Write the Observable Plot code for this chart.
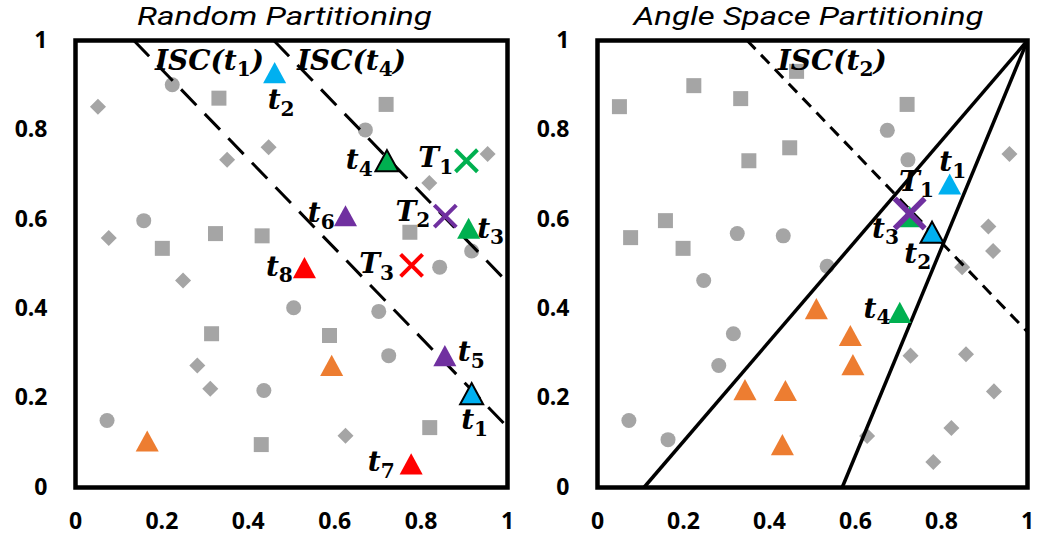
<!DOCTYPE html>
<html><head><meta charset="utf-8">
<script src="https://cdn.jsdelivr.net/npm/d3@7"></script>
<script src="https://cdn.jsdelivr.net/npm/@observablehq/plot@0.6"></script>
<style>
body{margin:0;background:#fff;}
#wrap{position:relative;width:1039px;height:540px;overflow:hidden;}
#wrap svg{position:absolute;top:0;}
</style></head><body><div id="wrap"></div>
<script>
// ---------- DATA ----------
const tickValues = [0, 0.2, 0.4, 0.6, 0.8, 1];
const tickLabels = ["0", "0.2", "0.4", "0.6", "0.8", "1"];
const panelTitles = ["Random Partitioning", "Angle Space Partitioning"];

// groups: g0 = t1/t2, g1 = T1 group, g2 = T2 group, g3 = T3 group, other = remaining tuples
const groupKeys = ["g0", "g1", "g2", "g3", "other"];

// Random Partitioning panel
const randomCircles = [[0.224,0.901],[0.671,0.800],[0.158,0.597],[0.917,0.529],[0.843,0.493],[0.505,0.402],[0.702,0.394],[0.725,0.295],[0.436,0.217],[0.073,0.150]];
const randomSquares = [[0.332,0.871],[0.719,0.857],[0.201,0.535],[0.324,0.568],[0.432,0.563],[0.774,0.571],[0.315,0.344],[0.588,0.340],[0.430,0.096],[0.820,0.134]];
const randomDiamonds = [[0.052,0.852],[0.351,0.733],[0.447,0.761],[0.819,0.681],[0.954,0.746],[0.077,0.558],[0.249,0.463],[0.282,0.273],[0.312,0.221],[0.625,0.116]];
const randomTriangles = [[0.917,0.210,"g0","t1"],[0.461,0.928,"g0","t2"],[0.910,0.580,"g1","t3"],[0.721,0.731,"g1","t4"],[0.855,0.295,"g2","t5"],[0.625,0.608,"g2","t6"],[0.777,0.053,"g3","t7"],[0.530,0.492,"g3","t8"],[0.166,0.104,"other",""],[0.593,0.273,"other",""]];
const randomTargets = [[0.905,0.731,"g1","T1"],[0.856,0.607,"g2","T2"],[0.778,0.497,"g3","T3"]];
const randomOutlined = ["t1", "t4"];
const randomIscLines = [[0.135,1,1,0.135],[0.459,1,1,0.459]];
const randomLabels = [["ISC(t_1)",0.310,0.955],["ISC(t_4)",0.639,0.955],["t_2",0.476,0.866],["t_4",0.657,0.732],["T_1",0.834,0.736],["t_6",0.569,0.613],["T_2",0.781,0.617],["t_3",0.961,0.579],["t_8",0.472,0.494],["T_3",0.697,0.499],["t_5",0.916,0.302],["t_1",0.924,0.150],["t_7",0.708,0.056]];

// Angle Space Partitioning panel
const angleCircles = [[0.674,0.799],[0.722,0.733],[0.325,0.568],[0.432,0.563],[0.534,0.495],[0.247,0.463],[0.316,0.344],[0.282,0.273],[0.073,0.150],[0.164,0.107]];
const angleSquares = [[0.051,0.852],[0.224,0.899],[0.333,0.870],[0.463,0.931],[0.720,0.857],[0.352,0.731],[0.447,0.760],[0.158,0.597],[0.077,0.559],[0.199,0.535]];
const angleDiamonds = [[0.958,0.746],[0.909,0.584],[0.920,0.529],[0.848,0.493],[0.728,0.295],[0.857,0.298],[0.922,0.215],[0.823,0.133],[0.781,0.057],[0.627,0.115]];
const angleTriangles = [[0.819,0.679,"g0","t1"],[0.778,0.571,"g0","t2"],[0.726,0.606,"g1","t3"],[0.703,0.392,"g1","t4"],[0.509,0.400,"other",""],[0.588,0.340,"other",""],[0.594,0.275,"other",""],[0.343,0.219,"other",""],[0.437,0.217,"other",""],[0.430,0.096,"other",""]];
const angleTargets = [[0.726,0.613,"g2","T1"]];
const angleOutlined = ["t2"];
const angleIscLines = [[0.348,1,1,0.348]];
const angleBoundaries = [[1,1,0.108,0],[1,1,0.569,0]];
const angleLabels = [["ISC(t_2)",0.546,0.955],["t_1",0.826,0.727],["T_1",0.742,0.684],["t_3",0.670,0.579],["t_2",0.745,0.523],["t_4",0.650,0.400]];

// ---------- STYLE ----------
const groupColors = ["#00B0F0", "#00B050", "#7030A0", "#FF0000", "#ED7D31"];
const GRAY = "#A5A5A5";
const titleWidths = [295, 350];
const diamondSym = {draw(c, size){ const s = Math.sqrt(size/2); c.moveTo(0,-s); c.lineTo(s,0); c.lineTo(0,s); c.lineTo(-s,0); c.closePath(); }};
const squareSym = {draw(c, size){ const s = Math.sqrt(size)/2; c.rect(-s,-s,2*s,2*s); }};
const triSym = {draw(c, size){ const h = Math.sqrt(size)/2; c.moveTo(0,-0.92*h); c.lineTo(h,0.92*h); c.lineTo(-h,0.92*h); c.closePath(); }};
const crossSym = {draw(c, size){ const s = Math.sqrt(size)/2; c.moveTo(-s,-s); c.lineTo(s,s); c.moveTo(s,-s); c.lineTo(-s,s); }};
const fmt = d => tickLabels[tickValues.indexOf(d)];
const X = d => d[0], Y = d => d[1];

function subscriptify(svg){
  const ns = "http://www.w3.org/2000/svg";
  svg.querySelectorAll("text").forEach(t => {
    const s = t.textContent;
    const m = s.match(/^(.*?)_(\d)(.*)$/);
    if (!m) return;
    t.textContent = "";
    const a = document.createElementNS(ns, "tspan"); a.textContent = m[1]; t.appendChild(a);
    const b = document.createElementNS(ns, "tspan"); b.textContent = m[2];
    b.setAttribute("font-size", "72%"); b.setAttribute("font-style", "normal"); b.setAttribute("dy", "0.32em");
    t.appendChild(b);
    if (m[3]) { const c = document.createElementNS(ns, "tspan"); c.textContent = m[3]; c.setAttribute("dy", "-0.23em"); t.appendChild(c); }
  });
}

function panel(o){
  const marks = [
    Plot.dot(o.squares, {x: X, y: Y, symbol: squareSym, r: 8.46, fill: GRAY}),
    Plot.dot(o.circles, {x: X, y: Y, r: 7.5, fill: GRAY}),
    Plot.dot(o.diamonds, {x: X, y: Y, symbol: diamondSym, r: 6.4, fill: GRAY}),
    Plot.link(o.dashed, {x1: d=>d[0], y1: d=>d[1], x2: d=>d[2], y2: d=>d[3], stroke: "black", strokeWidth: 3, strokeDasharray: o.dash}),
  ];
  if (o.solid) marks.push(Plot.link(o.solid, {x1: d=>d[0], y1: d=>d[1], x2: d=>d[2], y2: d=>d[3], stroke: "black", strokeWidth: 3.5}));
  marks.push(
    Plot.dot(o.triangles.filter(d => !o.outlined.includes(d[3])), {x: X, y: Y, symbol: triSym, r: 13, fill: d => d[2]}),
    Plot.dot(o.triangles.filter(d => o.outlined.includes(d[3])), {x: X, y: Y, symbol: triSym, r: 13, fill: d => d[2], stroke: "black", strokeWidth: 2}),
    Plot.dot(o.targets, {x: X, y: Y, symbol: crossSym, r: o.crossR, fill: "none", stroke: d => d[2], strokeWidth: o.crossW}),
    Plot.text(o.labels, {x: d=>d[1], y: d=>d[2], text: d=>d[0], fontFamily: "DejaVu Serif", fontWeight: "bold", fontStyle: "italic", fontSize: 28, fill: "black"}),
    Plot.frame({stroke: "black", strokeWidth: 4.5}),
    Plot.text([o.title], {text: d => d, frameAnchor: "top", lineAnchor: "bottom", dx: o.titleDx, dy: -16, fontFamily: "Roboto", fontStyle: "italic", fontWeight: "normal", fontSize: 25, fill: "black"})
  );
  const svg = Plot.plot({
    width: o.width, height: 540,
    marginLeft: o.marginLeft, marginRight: o.marginRight, marginTop: 40, marginBottom: 53,
    x: {domain: [0, 1], ticks: tickValues, tickFormat: fmt, tickSize: 0, tickPadding: 25, label: null},
    y: {domain: [0, 1], ticks: tickValues, tickFormat: fmt, tickSize: 0, tickPadding: 28, label: null},
    color: {domain: groupKeys, range: groupColors},
    style: {fontFamily: "'Open Sans', sans-serif", fontSize: "23px", fontWeight: "bold", background: "white", overflow: "visible", color: "black"},
    marks
  });
  subscriptify(svg);
  svg.querySelectorAll("text").forEach(t => {
    if (t.textContent === o.title) { t.setAttribute("textLength", o.titleWidth); t.setAttribute("lengthAdjust", "spacingAndGlyphs"); }
  });
  svg.style.left = o.left + "px";
  return svg;
}

const wrap = document.getElementById("wrap");
wrap.appendChild(panel({
  left: 0, width: 520, marginLeft: 75, marginRight: 13, title: panelTitles[0], titleWidth: titleWidths[0], titleDx: -7,
  circles: randomCircles, squares: randomSquares, diamonds: randomDiamonds,
  triangles: randomTriangles, outlined: randomOutlined, targets: randomTargets, crossR: 12.4, crossW: 4,
  dashed: randomIscLines, dash: "22,12", labels: randomLabels
}));
wrap.appendChild(panel({
  left: 520, width: 519, marginLeft: 77, marginRight: 12, title: panelTitles[1], titleWidth: titleWidths[1], titleDx: -4,
  circles: angleCircles, squares: angleSquares, diamonds: angleDiamonds,
  triangles: angleTriangles, outlined: angleOutlined, targets: angleTargets, crossR: 16.9, crossW: 5.5,
  dashed: angleIscLines, dash: "12,8", solid: angleBoundaries, labels: angleLabels
}));
</script></body></html>
